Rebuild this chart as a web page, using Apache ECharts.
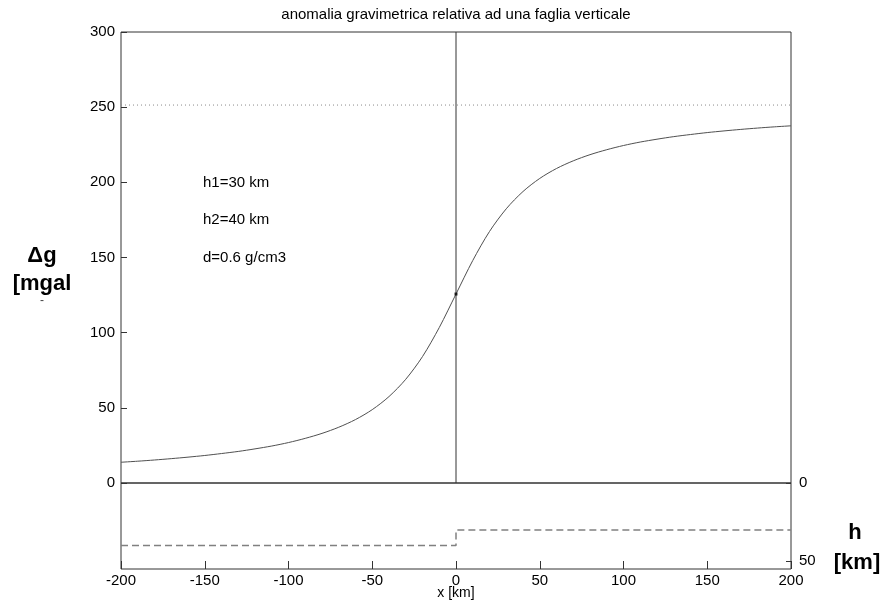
<!DOCTYPE html>
<html>
<head>
<meta charset="utf-8">
<title>anomalia gravimetrica</title>
<script src="https://cdn.jsdelivr.net/npm/echarts@6/dist/echarts.min.js"></script>
<style>
  html, body { margin: 0; padding: 0; background: #ffffff; }
  #chart { width: 880px; height: 604px; }
</style>
</head>
<body>
<div id="chart"></div>
<script>
// Horizontal position along the profile [km]
var xKm = [-200, -190, -180, -170, -160, -150, -140, -130, -120, -110, -100,
           -90, -80, -70, -60, -50, -40, -30, -20, -10, 0,
           10, 20, 30, 40, 50, 60, 70, 80, 90, 100,
           110, 120, 130, 140, 150, 160, 170, 180, 190, 200];
// Gravity anomaly [mgal]
var deltaG = [13.8, 14.5, 15.3, 16.2, 17.2, 18.3, 19.6, 21.0, 22.7, 24.6, 26.9,
              29.7, 33.0, 37.1, 42.2, 48.8, 57.5, 69.0, 84.1, 103.4, 125.7,
              148.0, 167.3, 182.4, 193.9, 202.6, 209.2, 214.3, 218.4, 221.7, 224.5,
              226.8, 228.7, 230.4, 231.8, 233.1, 234.2, 235.2, 236.1, 236.9, 237.6];
// Limit value of the anomaly far from the fault [mgal]
var asymptote = 251.4;
// Value at the fault trace
var faultPoint = [0, 125.7];
// Depth of the density contrast on each side of the fault [km]
var stepX = [-200, 0, 0, 200];
var stepDepth = [40, 40, 30, 30];
// Tick labels
var gTicks = [0, 50, 100, 150, 200, 250, 300];
var xTicks = [-200, -150, -100, -50, 0, 50, 100, 150, 200];
var hTicks = [0, 50];
// Text drawn on the plot
var titleText = 'anomalia gravimetrica relativa ad una faglia verticale';
var notes = ['h1=30 km', 'h2=40 km', 'd=0.6 g/cm3'];

var chart = echarts.init(document.getElementById('chart'), null, { renderer: 'canvas' });

var FONT = '"Liberation Sans", Arial, sans-serif';
var AX = '#333333';

var curve = xKm.map(function (x, i) { return [x, deltaG[i]]; });
var step = stepX.map(function (x, i) { return [x, stepDepth[i]]; });

function txt(x, y, s, font, align, color) {
  return { type: 'text', x: x, y: y, silent: true,
    style: { text: s, font: font, fill: color || '#000', textAlign: align || 'left', textVerticalAlign: 'middle' } };
}

var option = {
  backgroundColor: '#ffffff',
  animation: false,
  textStyle: { fontFamily: FONT },
  grid: [
    { left: 121, top: 32, width: 670, height: 451, show: true, borderColor: AX, borderWidth: 1, backgroundColor: 'transparent' },
    { left: 121, top: 483, width: 670, height: 86, show: true, borderColor: AX, borderWidth: 1, backgroundColor: 'transparent' }
  ],
  xAxis: [
    { type: 'value', gridIndex: 0, min: -200, max: 200, interval: 50,
      axisLine: { show: false, onZero: false }, axisTick: { show: false }, axisLabel: { show: false }, splitLine: { show: false } },
    { type: 'value', gridIndex: 1, min: -200, max: 200, interval: 50, position: 'bottom',
      axisLine: { show: false, onZero: false },
      axisTick: { show: true, inside: true, length: 8, lineStyle: { color: AX }, customValues: xTicks },
      axisLabel: { show: true, fontSize: 15, color: '#000', margin: 4, fontFamily: FONT, customValues: xTicks },
      splitLine: { show: false } }
  ],
  yAxis: [
    { type: 'value', gridIndex: 0, min: 0, max: 300, interval: 50, position: 'left',
      axisLine: { show: false, onZero: false },
      axisTick: { show: true, inside: true, length: 6, lineStyle: { color: AX }, customValues: gTicks },
      axisLabel: { show: true, fontSize: 15, color: '#000', margin: 6, fontFamily: FONT, customValues: gTicks },
      splitLine: { show: false } },
    { type: 'value', gridIndex: 1, min: 0, max: 55, inverse: true, position: 'right',
      axisLine: { show: false, onZero: false },
      axisTick: { show: true, inside: true, length: 5, lineStyle: { color: AX }, customValues: hTicks },
      axisLabel: { show: true, fontSize: 15, color: '#000', margin: 8, fontFamily: FONT, customValues: hTicks },
      splitLine: { show: false } }
  ],
  series: [
    { type: 'line', xAxisIndex: 0, yAxisIndex: 0, data: curve, smooth: 0.3,
      showSymbol: false, lineStyle: { color: '#505050', width: 1 }, silent: true, z: 3 },
    { type: 'line', xAxisIndex: 0, yAxisIndex: 0,
      data: [[xKm[0], asymptote], [xKm[xKm.length - 1], asymptote]],
      showSymbol: false, lineStyle: { color: '#8a8a8a', width: 1, type: [1, 3] }, silent: true, z: 2 },
    { type: 'line', xAxisIndex: 0, yAxisIndex: 0, data: [[0, 0], [0, 300]],
      showSymbol: false, lineStyle: { color: '#333333', width: 1 }, silent: true, z: 2 },
    { type: 'scatter', xAxisIndex: 0, yAxisIndex: 0, data: [faultPoint],
      symbol: 'rect', symbolSize: 3, itemStyle: { color: '#000' }, silent: true, z: 4 },
    { type: 'line', xAxisIndex: 1, yAxisIndex: 1, data: step,
      showSymbol: false, lineStyle: { color: '#808080', width: 1.5, type: [7, 4] }, silent: true, z: 3 }
  ],
  graphic: [
    // title, centred over the plot area
    txt(456, 15, titleText, '15px ' + FONT, 'center'),
    // model parameters
    txt(203, 183, notes[0], '15px ' + FONT),
    txt(203, 220, notes[1], '15px ' + FONT),
    txt(203, 258, notes[2], '15px ' + FONT),
    // left axis name
    txt(42, 256, 'Δg', 'bold 22px ' + FONT, 'center'),
    txt(42, 284, '[mgal', 'bold 22px ' + FONT, 'center'),
    txt(42, 301, '-', '12px ' + FONT, 'center', '#444'),
    // right axis name
    txt(855, 533, 'h', 'bold 22px ' + FONT, 'center'),
    txt(857, 563, '[km]', 'bold 22px ' + FONT, 'center'),
    // bottom axis name
    txt(456, 593, 'x [km]', '14px ' + FONT, 'center')
  ]
};

chart.setOption(option);
</script>
</body>
</html>
